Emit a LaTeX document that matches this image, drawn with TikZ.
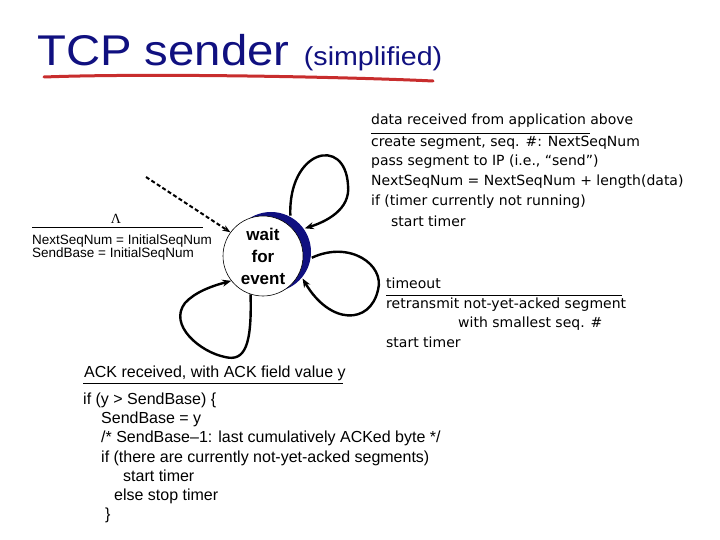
\documentclass[tikz,border=0pt]{standalone}
\usepackage{fontspec}
\setmainfont{Liberation Sans}
\newfontfamily\titlefont[FakeStretch=1.1]{Liberation Sans}
\newfontfamily\tahfont{DejaVu Sans}
\newfontfamily\grserif{Liberation Serif}
\usetikzlibrary{arrows.meta}
\definecolor{navy}{RGB}{16,16,128}
\definecolor{ured}{RGB}{200,45,45}
\begin{document}
\begin{tikzpicture}[x=1pt,y=-1pt,
  txt/.style={anchor=base west,inner sep=0pt,font=\fontsize{16}{19}\selectfont},
  ttxt/.style={anchor=base west,inner sep=0pt,font=\tahfont\fontsize{14}{19}\selectfont},
  ltxt/.style={anchor=base west,inner sep=0pt,font=\fontsize{13.5}{15}\selectfont},
  looparrow/.style={line width=2.4pt,-{Stealth[length=9pt,width=7pt]}},
  dasharrow/.style={line width=2pt,dash pattern=on 4pt off 2.5pt,-{Stealth[length=8pt,width=6pt]}},
  rulestyle/.style={line width=0.9pt}]
\useasboundingbox[fill=white] (0,0) rectangle (720,540);

% title
\node[anchor=base west,inner sep=0pt,text=navy,font=\titlefont\fontsize{43}{50}\selectfont] (title) at (37,66) {TCP sender};
\node[anchor=base west,inner sep=0pt,text=navy,font=\titlefont\fontsize{26}{30}\selectfont] (simp) at ([xshift=14pt]title.base east) {(simplified)};
\coordinate (u1) at (44,77);
\coordinate (u2) at (433,81);
\draw[ured,line width=3pt,line cap=round] (u1) .. controls (150,73) and (350,77) .. (u2);

% state
\fill[navy] (271,252) circle (40pt);
\node[circle,draw,line width=0.6pt,fill=white,minimum size=80pt,inner sep=0pt,align=center,
      font=\fontsize{17}{22}\selectfont\bfseries] (w) at (263,256) {wait\\for\\event};
\node[circle,minimum size=82pt,inner sep=0pt] (ws) at (271,252) {};

% loops
\draw[looparrow] (ws.62) .. controls (288,150) and (345,135) .. (348,185) .. controls (351,210) and (325,222) .. (ws.35);
\draw[looparrow] (ws.-8) .. controls (350,240) and (385,265) .. (378,290) .. controls (370,325) and (330,325) .. (ws.-40);
\draw[looparrow] (w.-108) .. controls (252,345) and (245,362) .. (225,357) .. controls (200,352) and (168,325) .. (185,303) .. controls (195,292) and (212,286) .. (w.-142);
\coordinate (ds) at (146,177);
\draw[dasharrow] (ds) -- (w.144);

% init label
\node[anchor=base,inner sep=0pt,font=\grserif\fontsize{14}{15}\selectfont] (lam) at (116,224) {Λ};
\coordinate (l1) at (32,227); \coordinate (l2) at (203,227);
\draw[rulestyle] (l1) -- (l2);
\node[ltxt] (i1) at (32,244) {NextSeqNum = InitialSeqNum};
\node[ltxt] (i2) at (32,258) {SendBase = InitialSeqNum};

% data label
\node[ttxt] (d0) at (371,125) {data received from application above};
\coordinate (r1) at (371,133); \coordinate (r2) at (590,133);
\draw[rulestyle] (r1) -- (r2);
\node[ttxt] (d1) at (371,146.5) {create segment, seq. \#: NextSeqNum};
\node[ttxt] (d2) at (371,166) {pass segment to IP (i.e., “send”)};
\node[ttxt] (d3) at (371,186) {NextSeqNum = NextSeqNum + length(data)};
\node[ttxt] (d4) at (371,206) {if (timer currently not running)};
\node[ttxt] (d5) at (391,226) {start timer};

% timeout label
\node[ttxt] (t0) at (386,288) {timeout};
\coordinate (t1) at (386,295); \coordinate (t2) at (622,295);
\draw[rulestyle] (t1) -- (t2);
\node[ttxt] (tA) at (386,308) {retransmit not-yet-acked segment};
\node[ttxt] (tB) at (458,327.5) {with smallest seq. \#};
\node[ttxt] (tC) at (386,347) {start timer};

% ack label
\node[txt] (a0) at (84,377) {ACK received, with ACK field value y};
\coordinate (a1) at (83,383); \coordinate (a2) at (343,383);
\draw[rulestyle] (a1) -- (a2);
\node[txt] (b1) at (83,404) {if (y > SendBase) \{};
\node[txt] (b2) at (101,423) {SendBase = y};
\node[txt] (b3) at (101,442.5) {/* SendBase–1: last cumulatively ACKed byte */};
\node[txt] (b4) at (101,462) {if (there are currently not-yet-acked segments)};
\node[txt] (b5) at (123,481) {start timer};
\node[txt] (b6) at (114,500) {else stop timer};
\node[txt] (b7) at (105,519) {\}};
\end{tikzpicture}
\end{document}
